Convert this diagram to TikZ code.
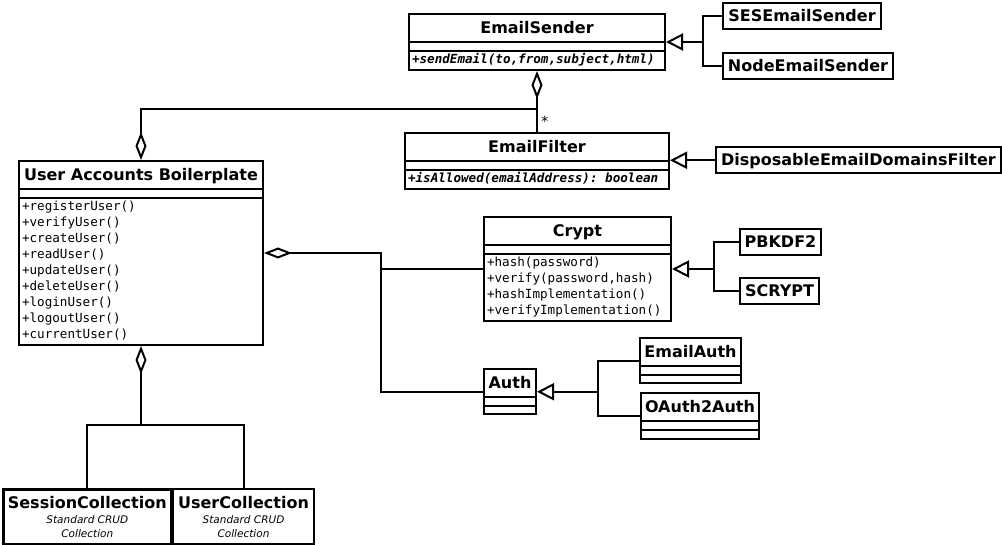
\documentclass[tikz,border=0pt]{standalone}
\usepackage{fontspec}
\setmainfont{DejaVu Sans}
\setmonofont{DejaVu Sans Mono}
\usepackage{tikz}
\usetikzlibrary{arrows.meta,positioning,shapes.multipart}

\newcommand{\clsname}[1]{\rule[-7pt]{0pt}{25.5pt}{\fontsize{16pt}{18pt}\selectfont\bfseries #1}}
\newcommand{\emptypart}{\rule{0pt}{5.5pt}}
\newcommand{\oplist}[1]{{\fontsize{12.6pt}{16pt}\selectfont\ttfamily\begin{tabular}{@{}l@{}}#1\end{tabular}}}

\tikzset{
  umlclass/.style={rectangle split,rectangle split parts=3,draw,line width=2pt,inner xsep=3pt,inner ysep=0.5pt,anchor=north west,rectangle split part align={center,left,left}},
  umlbox/.style={rectangle,draw,line width=2pt,inner xsep=3pt,inner ysep=0.5pt,anchor=north west},
  aggr/.style={arrows={{Diamond[open,length=28pt,width=11pt]}-}},
  inherit/.style={arrows={-{Triangle[open,length=17pt,width=17pt]}}},
  link/.style={line width=2pt}
}

\begin{document}
\begin{tikzpicture}[x=1pt,y=-1pt]
	\useasboundingbox (0,0) rectangle (1002,545);

	% email classes
	\node[umlclass,minimum width=256pt] (es) at (408,13) {\clsname{EmailSender}\nodepart{second}\emptypart\nodepart{third}\oplist{\bfseries\itshape +sendEmail(to,from,subject,html)}};
	\node[umlbox,minimum width=158pt] (ses) at (722,2) {\clsname{SESEmailSender}};
	\node[umlbox,minimum width=170pt] (nes) at (722,52) {\clsname{NodeEmailSender}};
	\node[umlclass,minimum width=264pt] (ef) at (404,132) {\clsname{EmailFilter}\nodepart{second}\emptypart\nodepart{third}\oplist{\bfseries\itshape +isAllowed(emailAddress): boolean}};
	\node[umlbox,minimum width=285pt] (dedf) at (715,146) {\clsname{DisposableEmailDomainsFilter}};

	% main class
	\node[umlclass,minimum width=244pt] (uab) at (18,160) {\clsname{User Accounts Boilerplate}\nodepart{second}\emptypart\nodepart{third}\oplist{+registerUser()\\+verifyUser()\\+createUser()\\+readUser()\\+updateUser()\\+deleteUser()\\+loginUser()\\+logoutUser()\\+currentUser()}};

	% crypt and auth
	\node[umlclass,minimum width=187pt] (crypt) at (483,216) {\clsname{Crypt}\nodepart{second}\emptypart\nodepart{third}\oplist{+hash(password)\\+verify(password,hash)\\+hashImplementation()\\+verifyImplementation()}};
	\node[umlbox,minimum width=81pt] (pbkdf) at (739,228) {\clsname{PBKDF2}};
	\node[umlbox,minimum width=79pt] (scrypt) at (739,277) {\clsname{SCRYPT}};
	\node[umlclass,minimum width=52pt] (auth) at (483,368) {\clsname{Auth}\nodepart{second}\emptypart\nodepart{third}\emptypart};
	\node[umlclass,minimum width=101pt] (eauth) at (639,337) {\clsname{EmailAuth}\nodepart{second}\emptypart\nodepart{third}\emptypart};
	\node[umlclass,minimum width=118pt] (oauth) at (640,392) {\clsname{OAuth2Auth}\nodepart{second}\emptypart\nodepart{third}\emptypart};

	% collections
	\begin{scope}[every node/.style={umlbox,align=center,minimum height=55pt,font=\fontsize{10.5pt}{14pt}\selectfont\itshape}]
		\node[minimum width=168pt,line width=2.6pt] (sess) at (2,488) {{\fontsize{16pt}{18pt}\selectfont\upshape\bfseries SessionCollection}\\[1pt]Standard CRUD\\Collection};
		\node[minimum width=141pt] (ucol) at (172,488) {{\fontsize{16pt}{18pt}\selectfont\upshape\bfseries UserCollection}\\[1pt]Standard CRUD\\Collection};
	\end{scope}

	% joints
	\path (es.south) ++(0,38) coordinate (esJoin);
	\path (es.east) ++(37,0) coordinate (esFork);
	\path (crypt.east) ++(42,0) coordinate (cryptFork);
	\path (auth.east) ++(61,0) coordinate (authFork);
	\path (uab.east) ++(117,0) coordinate (uabFork);
	\path (uab.south) ++(0,79) coordinate (colFork);

	\begin{scope}[link]
	\draw[aggr] (es.south) -- node[pos=0.82,right=0pt,font=\fontsize{14pt}{14pt}\selectfont] {*} (ef.north);
	\draw[aggr] (uab.north) |- (esJoin);
	\draw (ses.west) -| (esFork);
	\draw (nes.west) -| (esFork);
	\draw[inherit] (esFork) -- (es.east);
	\draw[inherit] (dedf.west) -- (ef.east |- dedf.west);

	\draw[aggr] (uab.east) -- (uabFork) |- (auth.west);
	\draw (crypt.west) -- (crypt.west -| uabFork);
	\draw (pbkdf.west) -| (cryptFork);
	\draw (scrypt.west) -| (cryptFork);
	\draw[inherit] (cryptFork) -- (crypt.east);
	\draw (eauth.west) -| (authFork);
	\draw (oauth.west) -| (authFork);
	\draw[inherit] (authFork) -- (auth.east);

	\draw[aggr] (uab.south) -- (colFork);
	\draw (colFork) -| (sess.north);
	\draw (colFork) -| (ucol.north);
	\end{scope}
\end{tikzpicture}
\end{document}
